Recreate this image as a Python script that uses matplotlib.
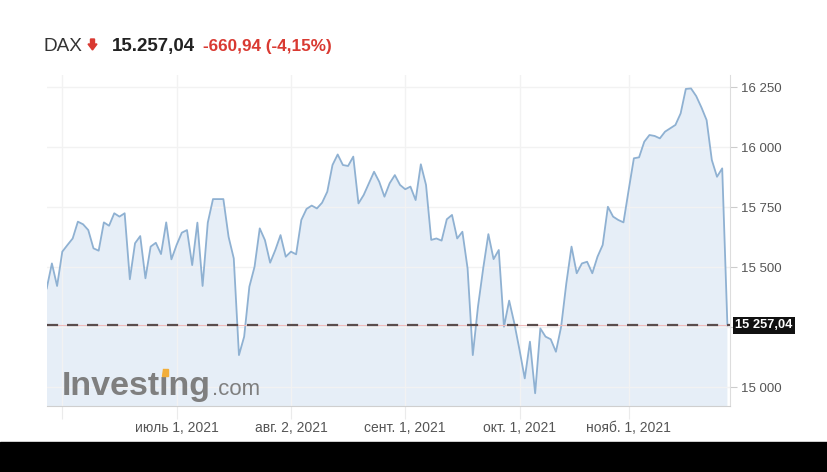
import numpy as np
import pandas as pd
import matplotlib
matplotlib.use('Agg')
import matplotlib.pyplot as plt
from matplotlib.patches import Rectangle, Polygon

# DAX daily closes (27 May - 26 Nov 2021)
may = [15411, 15515, 15421]
jun = [15564, 15592, 15619, 15689, 15678, 15654, 15578, 15568, 15686, 15672, 15724,
       15710, 15724, 15449, 15599, 15629, 15453, 15585, 15601, 15554, 15686, 15532]
jul = [15592, 15643, 15654, 15508, 15685, 15421, 15685, 15783, 15783, 15783, 15626,
       15536, 15133, 15210, 15418, 15501, 15661, 15612, 15518, 15571, 15633, 15543]
aug = [15564, 15553, 15696, 15742, 15756, 15744, 15768, 15814, 15925, 15969, 15925,
       15921, 15960, 15765, 15800, 15849, 15897, 15855, 15793, 15849, 15883, 15842]
sep = [15824, 15835, 15779, 15928, 15842, 15613, 15619, 15610, 15699, 15717, 15619,
       15647, 15494, 15133, 15335, 15494, 15637, 15533, 15571, 15251, 15360, 15265]
oct_ = [15154, 15036, 15189, 14974, 15244, 15210, 15199, 15147, 15251, 15432, 15585,
        15474, 15515, 15522, 15474, 15543, 15592, 15751, 15710, 15696, 15686]
nov = [15821, 15953, 15957, 16022, 16050, 16046, 16036, 16064, 16078, 16092, 16140,
       16242, 16244, 16212, 16165, 16112, 15946, 15876, 15911, 15257.04]

closes = may + jun + jul + aug + sep + oct_ + nov
dates = pd.bdate_range('2021-05-27', '2021-11-26')

tick_dates = ['2021-06-01', '2021-07-01', '2021-08-02', '2021-09-01', '2021-10-01', '2021-11-01']
tick_labels = ['', 'июль 1, 2021', 'авг. 2, 2021', 'сент. 1, 2021', 'окт. 1, 2021', 'нояб. 1, 2021']
y_ticks = [15000, 15250, 15500, 15750, 16000, 16250]

plt.rcParams['font.family'] = ['Liberation Sans', 'DejaVu Sans']

W, H = 828, 472
fig = plt.figure(figsize=(W / 100, H / 100), dpi=100)

def px(x, y):
    # pixel position -> figure fraction
    return (x / W, 1 - y / H)

ax = fig.add_axes([46.7 / W, 1 - 406 / H, (730 - 46.7) / W, (406 - 75) / H])

x = np.arange(len(closes))
ax.fill_between(x, closes, 14000, color='#e6eef7', lw=0, zorder=0.3)
ax.plot(x, closes, color='#8fb1d2', lw=1.3, zorder=2)
ax.set_xlim(0, 131.5)
ax.set_ylim(14921, 16300)

last = closes[-1]
ax.axhline(last, color='#efbcbc', lw=0.8, zorder=3)
ax.axhline(last, color='#5a4d4d', lw=1.6, ls=(0, (5, 4)), zorder=3.1)

# axes styling
for s in ['top', 'left']:
    ax.spines[s].set_visible(False)
ax.spines['bottom'].set_color('#cfcfcf')
ax.spines['right'].set_color('#dddddd')

tick_pos = [dates.get_loc(pd.Timestamp(d)) for d in tick_dates]
ax.set_xticks(tick_pos)
ax.set_xticklabels(tick_labels)
ax.yaxis.tick_right()
ax.set_yticks(y_ticks)
ax.set_yticklabels(['' if v == 15250 else f'{v:,}'.replace(',', ' ') for v in y_ticks])
ax.tick_params(axis='y', length=5, color='#cccccc', labelsize=9.5, labelcolor='#555555', pad=3)
ax.tick_params(axis='x', length=9, color='#ebebeb', labelsize=10, labelcolor='#555555', pad=2)
ax.set_axisbelow(True)
ax.grid(color='#f2f2f2', lw=1)

# current value box
last_txt = f'{last:,.2f}'.replace(',', ' ').replace('.', ',')
ax.text(1.008, last, last_txt, transform=ax.get_yaxis_transform(), ha='left', va='center',
        fontsize=9.3, fontweight='bold', color='white', clip_on=False,
        bbox=dict(boxstyle='square,pad=0.2', fc='#111111', ec='none'))

# header
fig.text(*px(44, 51), 'DAX', fontsize=13.7, color='#333333', va='baseline')
arrow = [px(90.5, 39), px(94.5, 39), px(94.5, 44), px(97, 44), px(92.5, 50),
         px(88, 44), px(90.5, 44)]
fig.add_artist(Polygon(arrow, closed=True, transform=fig.transFigure, color='#d93a32'))
fig.text(*px(112, 51), '15.257,04', fontsize=13.5, fontweight='bold', color='#222222', va='baseline')
fig.text(*px(203, 51), '-660,94 (-4,15%)', fontsize=12.3, fontweight='bold', color='#d93a32',
         va='baseline')

# watermark: Investing.com with an orange dot on the i
wm = dict(fontsize=24.5, fontweight='bold', color='#7f7f7f', va='baseline')
fig.text(*px(62, 395), 'Invest\u0131ng', **wm)
renderer = fig.canvas.get_renderer()
tmp = fig.text(*px(62, 395), 'Invest', **wm)
w_pre = tmp.get_window_extent(renderer).width
tmp.remove()
tmp = fig.text(*px(62, 395), 'Invest\u0131ng', **wm)
w_all = tmp.get_window_extent(renderer).width
tmp.remove()
tmp = fig.text(*px(62, 395), '\u0131', **wm)
w_i = tmp.get_window_extent(renderer).width
tmp.remove()
dot_x = 62 + w_pre + w_i / 2
fig.add_artist(Polygon([px(dot_x - 2.5, 376), px(dot_x + 3.5, 376), px(dot_x + 3.5, 369),
                        px(dot_x - 1.5, 369)], closed=True, transform=fig.transFigure,
                       color='#f2ae3a', zorder=4))
fig.text(*px(62 + w_all + 1, 395), '.com', fontsize=16, color='#7f7f7f', va='baseline')

# black strip at the bottom
fig.add_artist(Rectangle((0, 0), 1, 30 / H, transform=fig.transFigure, color='black'))

fig.savefig('out.png', dpi=100)
